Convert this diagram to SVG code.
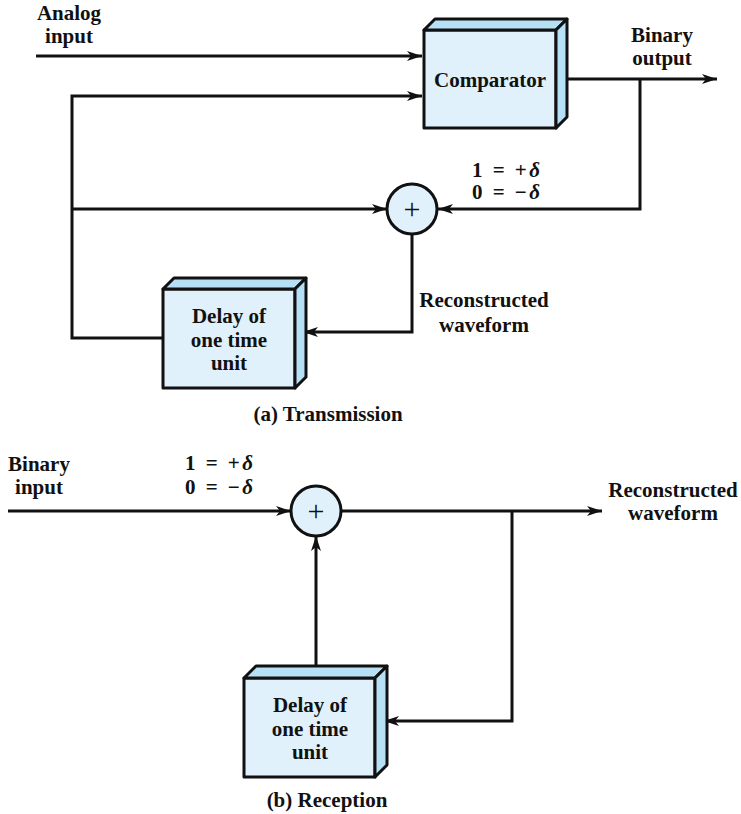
<svg xmlns="http://www.w3.org/2000/svg" width="741" height="814" viewBox="0 0 741 814">
<style>
.t{font-family:"Liberation Serif","Times New Roman",serif;font-weight:bold;font-size:21px;fill:#111;text-anchor:middle}
.pl{font-family:"Liberation Serif","Times New Roman",serif;font-size:30px;fill:#111;text-anchor:middle}
.face{fill:#e0f1fb;stroke:#111;stroke-width:3;stroke-linejoin:round}
.side{fill:#b6e0f5;stroke:#111;stroke-width:3;stroke-linejoin:round}
.c{fill:none;stroke:#111;stroke-width:3}
</style>
<defs>
<marker id="ah" markerUnits="userSpaceOnUse" markerWidth="16" markerHeight="12" refX="15" refY="6" orient="auto">
<path d="M0,1 L15,6 L0,11 L4,6 z" fill="#111"/>
</marker>
</defs>
<rect width="741" height="814" fill="#fff"/>
<g id="connectors">
<path class="c" d="M36,56 H422" marker-end="url(#ah)"/>
<path class="c" d="M163,338 H72 V96 H422" marker-end="url(#ah)"/>
<path class="c" d="M567,79 H717" marker-end="url(#ah)"/>
<path class="c" d="M640,79 V209 H438" marker-end="url(#ah)"/>
<path class="c" d="M72,209 H387" marker-end="url(#ah)"/>
<path class="c" d="M412,234 V332 H303" marker-end="url(#ah)"/>
<path class="c" d="M8,511 H291" marker-end="url(#ah)"/>
<path class="c" d="M341,511 H602" marker-end="url(#ah)"/>
<path class="c" d="M512,511 V721 H384" marker-end="url(#ah)"/>
<path class="c" d="M316,666 V536" marker-end="url(#ah)"/>
</g>
<g id="comparator">
<rect class="face" x="424" y="30" width="132" height="98"/>
<polygon class="side" points="424,30 435,19 567,19 556,30"/>
<polygon class="side" points="556,30 567,19 567,117 556,128"/>
<text class="t" x="490" y="87">Comparator</text>
</g>
<g id="adder-a">
<circle cx="412" cy="209" r="25" fill="#e0f1fb" stroke="#111" stroke-width="3"/>
<text class="pl" x="412" y="219">+</text>
</g>
<g id="delay-a">
<rect class="face" x="163" y="289" width="132" height="99"/>
<polygon class="side" points="163,289 174,278 306,278 295,289"/>
<polygon class="side" points="295,289 306,278 306,377 295,388"/>
<text class="t" x="229" y="323">Delay of</text>
<text class="t" x="229" y="347">one time</text>
<text class="t" x="229" y="370">unit</text>
</g>
<g id="adder-b">
<circle cx="316" cy="511" r="25" fill="#e0f1fb" stroke="#111" stroke-width="3"/>
<text class="pl" x="316" y="521">+</text>
</g>
<g id="delay-b">
<rect class="face" x="244" y="678" width="131" height="99"/>
<polygon class="side" points="244,678 256,666 387,666 375,678"/>
<polygon class="side" points="375,678 387,666 387,765 375,777"/>
<text class="t" x="310" y="712">Delay of</text>
<text class="t" x="310" y="736">one time</text>
<text class="t" x="310" y="759">unit</text>
</g>
<g id="labels">
<text class="t" x="69" y="20">Analog</text>
<text class="t" x="69" y="43">input</text>
<text class="t" x="662" y="42">Binary</text>
<text class="t" x="662" y="65">output</text>
<text class="t" x="506" y="177" textLength="68" lengthAdjust="spacing">1 = +<tspan font-style="italic">δ</tspan></text>
<text class="t" x="506" y="199" textLength="68" lengthAdjust="spacing">0 = −<tspan font-style="italic">δ</tspan></text>
<text class="t" x="484" y="307">Reconstructed</text>
<text class="t" x="484" y="332">waveform</text>
<text class="t" x="328" y="421">(a) Transmission</text>
<text class="t" x="39" y="471">Binary</text>
<text class="t" x="39" y="494">input</text>
<text class="t" x="219" y="470" textLength="68" lengthAdjust="spacing">1 = +<tspan font-style="italic">δ</tspan></text>
<text class="t" x="219" y="494" textLength="68" lengthAdjust="spacing">0 = −<tspan font-style="italic">δ</tspan></text>
<text class="t" x="673" y="497">Reconstructed</text>
<text class="t" x="673" y="520">waveform</text>
<text class="t" x="327" y="807">(b) Reception</text>
</g>
</svg>
